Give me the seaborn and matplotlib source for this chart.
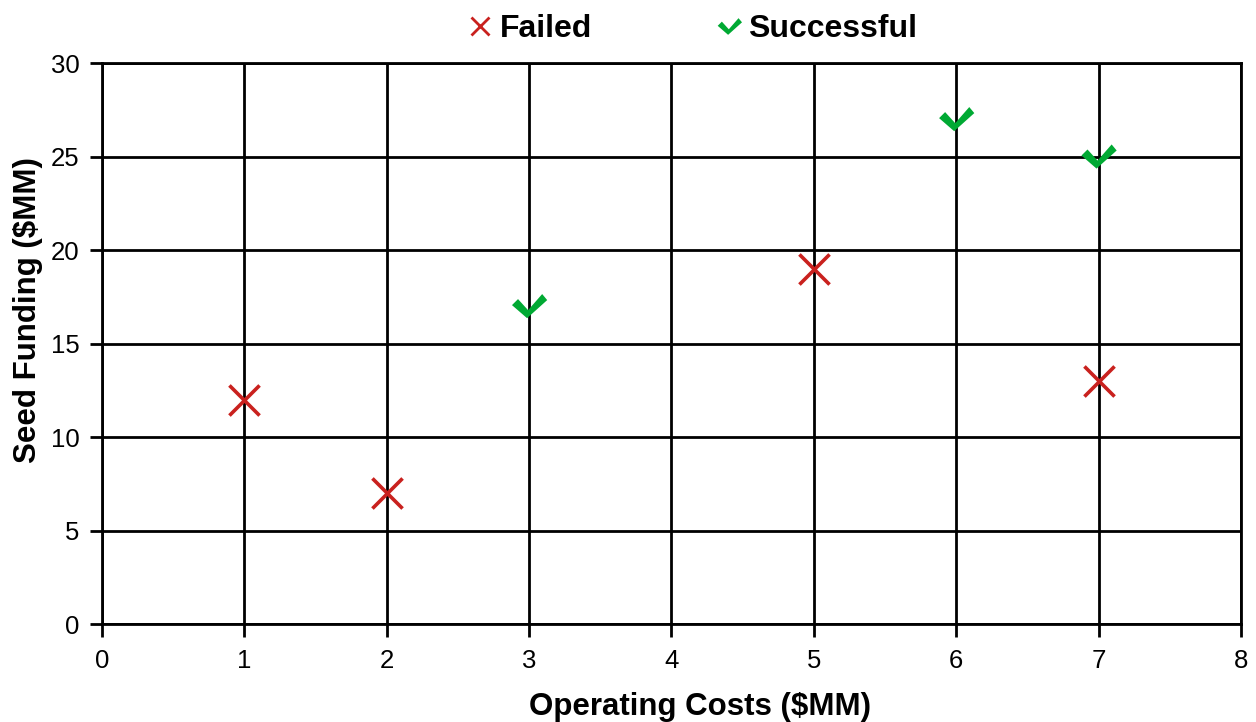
import matplotlib
matplotlib.use("Agg")
import matplotlib.pyplot as plt
from matplotlib.path import Path
from matplotlib.lines import Line2D
import seaborn as sns
import pandas as pd

# Funding outcome data
failed_costs = [1, 2, 5, 7]
failed_funding = [12, 7, 19, 13]
success_costs = [3, 6, 7]
success_funding = [17, 27, 25]

x_ticks = [0, 1, 2, 3, 4, 5, 6, 7, 8]
y_ticks = [0, 5, 10, 15, 20, 25, 30]

RED = "#C9211E"
GREEN = "#00A933"

sns.set_theme(style="white")
plt.rcParams["font.family"] = ["Liberation Sans", "DejaVu Sans"]
plt.rcParams["text.color"] = "black"
plt.rcParams["axes.labelcolor"] = "black"

# Check-mark marker built as a filled polygon
check_verts = [(-17, 1), (-11, 7), (-1, -4), (13, 12), (18, 6), (-2, -12), (-17, 1)]
check_codes = [Path.MOVETO] + [Path.LINETO] * 5 + [Path.CLOSEPOLY]
check_marker = Path(check_verts, check_codes)

fig = plt.figure(figsize=(12.56, 7.22), dpi=100)
ax = fig.add_axes([0.0812, 0.1357, 0.9068, 0.777])

df_failed = pd.DataFrame({"cost": failed_costs, "funding": failed_funding})
df_success = pd.DataFrame({"cost": success_costs, "funding": success_funding})

sns.scatterplot(data=df_failed, x="cost", y="funding", marker="x", s=470,
                color=RED, linewidth=2.6, ax=ax, zorder=3, legend=False)
sns.scatterplot(data=df_success, x="cost", y="funding", marker=check_marker, s=680,
                color=GREEN, edgecolor="none", ax=ax, zorder=3, legend=False)

ax.set_xlim(0, 8)
ax.set_ylim(0, 30)
ax.set_xticks(x_ticks)
ax.set_yticks(y_ticks)
ax.grid(True, color="black", linewidth=2)
ax.set_axisbelow(True)
for sp in ax.spines.values():
    sp.set_color("black")
    sp.set_linewidth(2)
ax.tick_params(axis="both", which="major", length=9, width=2, color="black",
               labelsize=18.5, labelcolor="black", direction="out",
               left=True, bottom=True)
ax.tick_params(axis="x", pad=9)
ax.tick_params(axis="y", pad=7)

ax.set_xlabel("Operating Costs ($MM)", fontsize=22.5, fontweight="bold")
ax.set_ylabel("Seed Funding ($MM)", fontsize=22.5, fontweight="bold")
ax.xaxis.label.set_va("center")
ax.xaxis.set_label_coords(0.525, -0.148)
ax.yaxis.label.set_va("center")
ax.yaxis.label.set_ha("center")
ax.yaxis.set_label_coords(-0.065, 0.5597)

handles = [
    Line2D([], [], linestyle="none", marker="x", markersize=13, markeredgewidth=2,
           color=RED, label="Failed"),
    Line2D([], [], linestyle="none", marker=check_marker, markersize=18,
           color=GREEN, markeredgewidth=0, label="Successful"),
]
fig.legend(handles=handles, loc="center", bbox_to_anchor=(0.5525, 0.96), ncol=2,
           frameon=False, prop={"size": 23, "weight": "bold"},
           handlelength=0.6, handletextpad=0.3, columnspacing=4.0,
           borderaxespad=0, borderpad=0)

fig.savefig("out.png", dpi=100, facecolor="white")
